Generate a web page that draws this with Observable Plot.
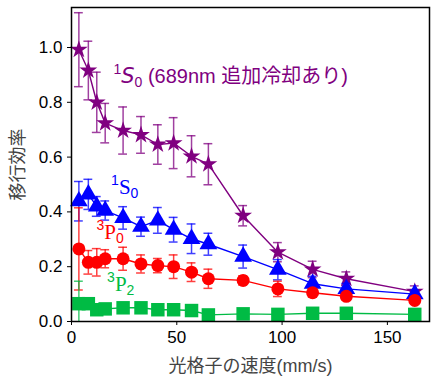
<!DOCTYPE html>
<html>
<head>
<meta charset="utf-8">
<script src="https://cdn.jsdelivr.net/npm/d3@7"></script>
<script src="https://cdn.jsdelivr.net/npm/@observablehq/plot@0.6"></script>
<style>
  html, body { margin: 0; padding: 0; background: #fff; }
  #chart { width: 436px; height: 387px; }
</style>
</head>
<body>
<div id="chart"></div>
<script>
// Lattice velocity (mm/s)
const speed = [3.5, 8, 12, 16, 24.5, 33, 41, 48.5, 57, 65, 81.5, 98, 114.5, 130.5, 163];

// 1S0 with 689nm additional cooling (purple stars)
const s0CoolY   = [0.992, 0.916, 0.800, 0.724, 0.697, 0.681, 0.646, 0.651, 0.603, 0.574, 0.386, 0.253, 0.190, 0.156, 0.109];
const s0CoolErr = [0.135, 0.107, 0.110, 0.072, 0.086, 0.067, 0.072, 0.093, 0.075, 0.075, 0.037, 0.035, 0.030, 0.025, 0.021];

// 1S0 (blue triangles)
const s0Y   = [0.439, 0.464, 0.420, 0.405, 0.378, 0.346, 0.369, 0.335, 0.302, 0.282, 0.237, 0.189, 0.138, 0.119, 0.100];
const s0Err = [0.072, 0.055, 0.036, 0.035, 0.041, 0.035, 0.047, 0.045, 0.054, 0.040, 0.042, 0.037, 0.027, 0.020, 0.015];

// 3P0 (red circles)
const p0Y   = [0.265, 0.216, 0.216, 0.229, 0.229, 0.210, 0.204, 0.200, 0.180, 0.156, 0.150, 0.119, 0.105, 0.092, 0.077];
const p0Err = [0.150, 0.043, 0.050, 0.033, 0.042, 0.033, 0.026, 0.043, 0.034, 0.035, 0.017, 0.028, 0.015, 0.012, 0.010];

// 3P2 (green squares)
const p2Y   = [0.065, 0.065, 0.043, 0.046, 0.050, 0.050, 0.043, 0.043, 0.040, 0.024, 0.028, 0.026, 0.030, 0.030, 0.026];
const p2Err = [0.082, 0.010, 0.008, 0.008, 0.008, 0.008, 0.008, 0.008, 0.008, 0.008, 0.008, 0.006, 0.006, 0.006, 0.006];

const seriesNames   = ["s0cool", "s0", "p0", "p2"];
const seriesColors  = ["#800080", "#0000ff", "#ff0000", "#00bb44"];
const seriesSymbols = ["star", "triangle", "circle", "square"];
const seriesValues  = [s0CoolY, s0Y, p0Y, p2Y];
const seriesErrors  = [s0CoolErr, s0Err, p0Err, p2Err];

const xTicks = [0, 50, 100, 150];
const yTicks = [0, 0.2, 0.4, 0.6, 0.8, 1.0];

// Annotation labels: superscript, letter, subscript, rest
const annX      = [19.9, 18.8, 11.9, 16.9];
const annY      = [0.869, 0.466, 0.302, 0.113];
const annSup    = ["1", "1", "3", "3"];
const annLetter = ["S", "S", "P", "P"];
const annSub    = ["0", "0", "0", "2"];
const annRest   = [" (689nm 追加冷却あり)", "", "", ""];

const xLabel = "光格子の速度(mm/s)";
const yLabel = "移行効率";

const capHalf = 2.1; // cap half-width in x units
const symbolR = {star: 5.6, triangle: 6.6, circle: 6.5, square: 7.6};

const marks = [];
seriesNames.forEach((name, k) => {
  const rows = speed.map((x, i) => ({x, y: seriesValues[k][i], e: seriesErrors[k][i]}));
  const color = seriesColors[k];
  marks.push(
    Plot.ruleX(rows, {x: "x", y1: d => d.y - d.e, y2: d => d.y + d.e, stroke: color, strokeOpacity: 0.75, strokeWidth: 1.5, clip: true}),
    Plot.ruleY(rows, {y: d => d.y - d.e, x1: d => d.x - capHalf, x2: d => d.x + capHalf, stroke: color, strokeOpacity: 0.75, strokeWidth: 1.5, clip: true}),
    Plot.ruleY(rows, {y: d => d.y + d.e, x1: d => d.x - capHalf, x2: d => d.x + capHalf, stroke: color, strokeOpacity: 0.75, strokeWidth: 1.5, clip: true}),
    Plot.line(rows, {x: "x", y: "y", stroke: color, strokeWidth: 1.4}),
    Plot.dot(rows, {x: "x", y: "y", symbol: () => seriesSymbols[k], fill: color, stroke: "none", r: symbolR[seriesSymbols[k]]})
  );
});

const annRows = annX.map((x, i) => ({x, y: annY[i], i}));

const chart = Plot.plot({
  width: 436,
  height: 387,
  marginLeft: 71,
  marginRight: 7,
  marginTop: 7,
  marginBottom: 66,
  style: {fontFamily: "'Liberation Sans', Arial, 'Noto Sans CJK JP', sans-serif", fontSize: "17px", color: "#000", background: "#fff"},
  x: {domain: [0, 170]},
  y: {domain: [0, 1.146]},
  symbol: {type: "identity"},
  marks: [
    ...marks,
    Plot.text(annRows, {x: "x", y: "y", text: d => annLetter[d.i], textAnchor: "start", lineAnchor: "bottom", fill: d => seriesColors[d.i], className: "ann"}),
    Plot.frame({stroke: "#000", strokeWidth: 1.5}),
    Plot.axisX({ticks: xTicks, tickSize: 4, tickFormat: d => String(d), fontSize: 17, label: xLabel, labelAnchor: "center", labelArrow: "none", labelOffset: 50, color: "#000"}),
    Plot.axisY({ticks: yTicks, tickSize: 4, tickFormat: d => d.toFixed(1), fontSize: 17, label: yLabel, labelAnchor: "center", labelArrow: "none", labelOffset: 60, color: "#000"})
  ]
});

// Build super/subscript labels
d3.select(chart).selectAll("g.ann text").each(function(_, j) {
  const i = annRows[j].i;
  const t = d3.select(this);
  t.text(null);
  const serif = i === 0 ? "'DejaVu Sans', sans-serif" : "'Liberation Serif', 'DejaVu Serif', serif";
  t.append("tspan").attr("font-size", 14).attr("dy", -9).text(annSup[i]);
  t.append("tspan").attr("font-size", 21).attr("dy", 9).attr("font-family", serif).attr("font-style", i === 0 ? "oblique" : null).text(annLetter[i]);
  t.append("tspan").attr("font-size", 14).attr("dy", 4).text(annSub[i]);
  if (annRest[i]) t.append("tspan").attr("font-size", 20).attr("dy", -4).attr("font-family", "'Liberation Sans', Arial, 'Noto Sans CJK JP', sans-serif").text(annRest[i]);
});

// axis label styling
d3.select(chart).selectAll("g[aria-label='x-axis label'] text, g[aria-label='y-axis label'] text")
  .attr("font-size", 18).attr("fill", "#444");

document.getElementById("chart").appendChild(chart);
</script>
</body>
</html>
